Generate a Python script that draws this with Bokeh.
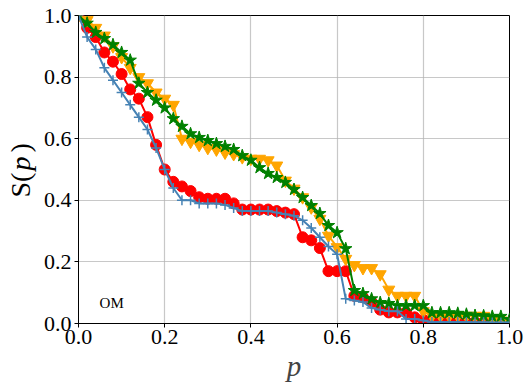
import math
from bokeh.plotting import figure
from bokeh.layouts import row
from bokeh.models import Range1d, Label, FixedTicker, PrintfTickFormatter
from bokeh.embed import file_html
from bokeh.resources import INLINE

p_vals = [0.00, 0.02, 0.04, 0.06, 0.08, 0.10, 0.12, 0.14, 0.16, 0.18,
          0.20, 0.22, 0.24, 0.26, 0.28, 0.30, 0.32, 0.34, 0.36, 0.38,
          0.40, 0.42, 0.44, 0.46, 0.48, 0.50, 0.52, 0.54, 0.56, 0.58,
          0.60, 0.62, 0.64, 0.66, 0.68, 0.70, 0.72, 0.74, 0.76, 0.78,
          0.80, 0.82, 0.84, 0.86, 0.88, 0.90, 0.92, 0.94, 0.96, 0.98, 1.00]

s_red = [1.00, 0.96, 0.93, 0.88, 0.85, 0.81, 0.76, 0.73, 0.67, 0.58,
         0.50, 0.46, 0.445, 0.43, 0.41, 0.405, 0.405, 0.405, 0.39, 0.37,
         0.37, 0.37, 0.37, 0.365, 0.36, 0.355, 0.28, 0.27, 0.245, 0.17,
         0.17, 0.17, 0.09, 0.085, 0.07, 0.045, 0.036, 0.036, 0.036, 0.02,
         0.012, 0.008, 0.006, 0.006, 0.005, 0.005, 0.004, 0.004, 0.003, 0.003, 0.002]

s_orange = [1.00, 0.985, 0.96, 0.935, 0.90, 0.865, 0.83, 0.80, 0.78, 0.75,
            0.73, 0.71, 0.60, 0.59, 0.58, 0.57, 0.565, 0.555, 0.55, 0.54,
            0.535, 0.535, 0.53, 0.513, 0.464, 0.438, 0.41, 0.377, 0.34, 0.285,
            0.248, 0.21, 0.19, 0.18, 0.18, 0.16, 0.11, 0.09, 0.09, 0.09,
            0.04, 0.025, 0.025, 0.025, 0.025, 0.025, 0.025, 0.025, 0.015, 0.01, 0.005]

s_green = [1.00, 0.975, 0.945, 0.925, 0.905, 0.88, 0.855, 0.78, 0.75, 0.725,
           0.70, 0.665, 0.64, 0.616, 0.604, 0.594, 0.584, 0.575, 0.565, 0.545,
           0.53, 0.506, 0.487, 0.474, 0.458, 0.435, 0.409, 0.383, 0.357, 0.318,
           0.295, 0.243, 0.107, 0.097, 0.08, 0.068, 0.065, 0.058, 0.058, 0.058,
           0.058, 0.035, 0.035, 0.035, 0.033, 0.03, 0.026, 0.025, 0.023, 0.023, 0.013]

s_blue = [1.00, 0.93, 0.89, 0.83, 0.79, 0.75, 0.71, 0.67, 0.63, 0.57,
          0.50, 0.44, 0.40, 0.40, 0.39, 0.39, 0.39, 0.385, 0.375, 0.365,
          0.365, 0.365, 0.365, 0.36, 0.355, 0.35, 0.335, 0.31, 0.28, 0.25,
          0.225, 0.08, 0.075, 0.07, 0.05, 0.045, 0.04, 0.04, 0.015, 0.015,
          0.01, 0.005, 0.005, 0.005, 0.005, 0.005, 0.004, 0.004, 0.003, 0.003, 0.003]

tick_vals = [0.0, 0.2, 0.4, 0.6, 0.8, 1.0]

SERIF = "Liberation Serif"
LEFT_W = 40

fig = figure(frame_width=431, frame_height=308,
             min_border_left=77 - LEFT_W, min_border_right=23,
             min_border_top=15, min_border_bottom=68,
             x_range=Range1d(0, 1), y_range=Range1d(0, 1),
             output_backend="svg", toolbar_location=None)

fig.outline_line_color = "black"
fig.outline_line_width = 1
fig.background_fill_color = "white"
fig.border_fill_color = "white"

for ax in (fig.xaxis[0], fig.yaxis[0]):
    ax.ticker = FixedTicker(ticks=tick_vals, minor_ticks=[])
    ax.formatter = PrintfTickFormatter(format="%.1f")
    ax.major_label_text_font = SERIF
    ax.major_label_text_font_size = "22px"
    ax.major_label_text_color = "black"
    ax.axis_line_color = "black"
    ax.major_tick_line_color = "black"
    ax.major_tick_out = 4
    ax.major_tick_in = 0
    ax.minor_tick_line_color = None

fig.xaxis[0].major_label_standoff = 2
fig.yaxis[0].major_label_standoff = 3

fig.xaxis[0].axis_label = "p"
fig.xaxis[0].axis_label_text_font = SERIF
fig.xaxis[0].axis_label_text_font_style = "italic"
fig.xaxis[0].axis_label_text_font_size = "29px"
fig.xaxis[0].axis_label_standoff = 3

for g in (fig.xgrid[0], fig.ygrid[0]):
    g.ticker = FixedTicker(ticks=tick_vals)
    g.grid_line_color = "#b0b0b0"
    g.grid_line_alpha = 0.7
    g.grid_line_width = 1.2

# series: red circles, orange inverted triangles, green stars, steelblue plus
fig.line(p_vals, s_red, line_color="red", line_width=2)
fig.scatter(p_vals, s_red, marker="circle", size=11, fill_color="red", line_color="red")

fig.line(p_vals, s_orange, line_color="orange", line_width=2)
fig.scatter(p_vals, s_orange, marker="inverted_triangle", size=12, fill_color="orange", line_color="orange")

fig.line(p_vals, s_green, line_color="green", line_width=2)
fig.scatter(p_vals, s_green, marker="star", size=13, fill_color="green", line_color="green")

fig.line(p_vals, s_blue, line_color="steelblue", line_width=2)
fig.scatter(p_vals, s_blue, marker="cross", size=10, line_color="steelblue", line_width=1.5)

fig.add_layout(Label(x=0.049, y=0.066, text="OM", text_font=SERIF,
                     text_font_size="15px", text_baseline="middle", text_color="black"))

# left strip holding the y-axis label S(p) with italic p
lab = figure(width=LEFT_W, height=391, min_border=0,
             x_range=Range1d(0, 1), y_range=Range1d(0, 1),
             x_axis_location=None, y_axis_location=None,
             output_backend="svg", toolbar_location=None)
lab.outline_line_color = None
lab.grid.visible = False
lab.background_fill_color = "white"
lab.border_fill_color = "white"

ang = math.pi / 2
LX = 20
for txt, ystart, style in (("S(", 126, "normal"), ("p", 153, "italic"), (")", 171, "normal")):
    lab.add_layout(Label(x=LX, y=ystart, x_units="screen", y_units="screen", text=txt,
                         angle=ang, text_font=SERIF, text_font_style=style,
                         text_font_size="28px", text_align="left",
                         text_baseline="middle", text_color="black"))

layout = row(lab, fig)
open("out.html", "w").write(file_html(layout, INLINE))
